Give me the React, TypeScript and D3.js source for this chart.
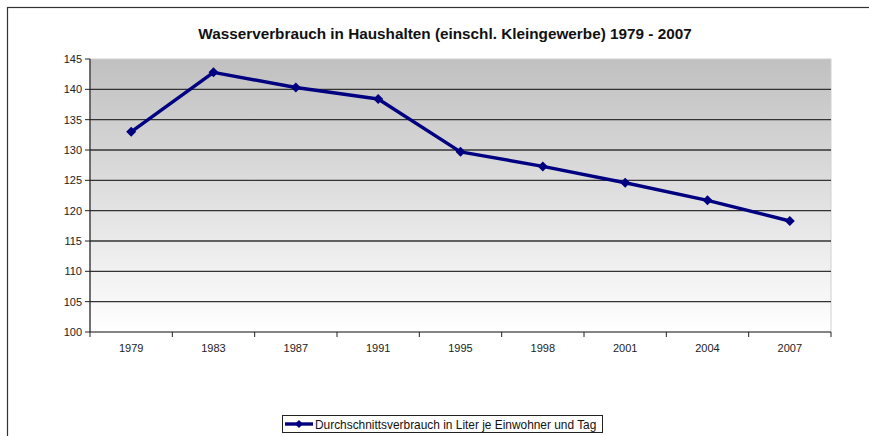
import * as d3 from 'd3'

const W = 869
const H = 436
const MARGIN = { top: 59, right: 38, bottom: 104, left: 90 }

const title = 'Wasserverbrauch in Haushalten (einschl. Kleingewerbe) 1979 - 2007'
const legendLabel = 'Durchschnittsverbrauch in Liter je Einwohner und Tag'
const years = ['1979', '1983', '1987', '1991', '1995', '1998', '2001', '2004', '2007']
const verbrauch = [133.0, 142.8, 140.3, 138.4, 129.7, 127.3, 124.6, 121.7, 118.3]
const yTicks = [100, 105, 110, 115, 120, 125, 130, 135, 140, 145]

const FONT = 'Liberation Sans, Arial, sans-serif'

export default function App() {
  const innerWidth = W - MARGIN.left - MARGIN.right
  const innerHeight = H - MARGIN.top - MARGIN.bottom

  const x = d3.scaleBand<string>().domain(years).range([0, innerWidth])
  const y = d3.scaleLinear().domain([100, 145]).range([innerHeight, 0])

  const points = years.map((yr, i) => ({ yr, v: verbrauch[i] }))
  const line = d3.line<{ yr: string; v: number }>()
    .x(d => (x(d.yr) ?? 0) + x.bandwidth() / 2)
    .y(d => y(d.v))

  const diamond = (cx: number, cy: number, r = 5) =>
    `M${cx},${cy - r}L${cx + r},${cy}L${cx},${cy + r}L${cx - r},${cy}Z`

  const boundaries = d3.range(years.length + 1).map(i => i * x.step())

  return (
    <svg width={W} height={H} style={{ position: 'absolute', left: 0, top: 0, background: '#fff' }}>
      <defs>
        <linearGradient id="bg" x1="0" y1="0" x2="0" y2="1">
          <stop offset="0" stopColor="#c0c0c0" />
          <stop offset="1" stopColor="#ffffff" />
        </linearGradient>
      </defs>

      {/* outer frame */}
      <rect x={7.5} y={7.5} width={W + 10} height={H + 10} fill="none" stroke="#333" strokeWidth={1.2} />

      <text x={445} y={39} textAnchor="middle" fontFamily={FONT} fontSize={15.3} fontWeight="bold" fill="#111">
        {title}
      </text>

      <g transform={`translate(${MARGIN.left}, ${MARGIN.top})`}>
        <rect width={innerWidth} height={innerHeight} fill="url(#bg)" stroke="#d0d0d0" strokeWidth={1} />

        {/* grid + y axis */}
        {yTicks.map(t => (
          <g key={t} transform={`translate(0, ${y(t)})`}>
            {t > 100 && t < 145 && <line x1={0} x2={innerWidth} stroke="#333" strokeWidth={1.3} />}
            <line x1={-5} x2={0} stroke="#222" />
            <text x={-8} dy="0.35em" textAnchor="end" fontFamily={FONT} fontSize={11} fill="#222">
              {t}
            </text>
          </g>
        ))}
        <line x1={0} x2={0} y1={0} y2={innerHeight} stroke="#222" strokeWidth={1.2} />
        <line x1={0} x2={innerWidth} y1={innerHeight} y2={innerHeight} stroke="#222" strokeWidth={1.2} />

        {/* x axis */}
        {boundaries.map((b, i) => (
          <line key={i} x1={b} x2={b} y1={innerHeight} y2={innerHeight + 5} stroke="#222" />
        ))}
        {years.map(yr => (
          <text key={yr} x={(x(yr) ?? 0) + x.bandwidth() / 2} y={innerHeight + 20} textAnchor="middle"
            fontFamily={FONT} fontSize={11} fill="#222">
            {yr}
          </text>
        ))}

        {/* series */}
        <path d={line(points) ?? ''} fill="none" stroke="#000080" strokeWidth={3.4} strokeLinejoin="round" />
        {points.map(p => (
          <path key={p.yr} d={diamond((x(p.yr) ?? 0) + x.bandwidth() / 2, y(p.v))} fill="#000080" />
        ))}
      </g>

      {/* legend */}
      <g transform="translate(282, 415)">
        <rect x={0.5} y={0.5} width={320} height={17} fill="#fff" stroke="#222" strokeWidth={1} />
        <line x1={3} x2={31} y1={9} y2={9} stroke="#000080" strokeWidth={3.4} />
        <path d={diamond(17, 9, 4)} fill="#000080" />
        <text x={33} y={13.5} fontFamily={FONT} fontSize={11.9} fill="#111">
          {legendLabel}
        </text>
      </g>
    </svg>
  )
}
